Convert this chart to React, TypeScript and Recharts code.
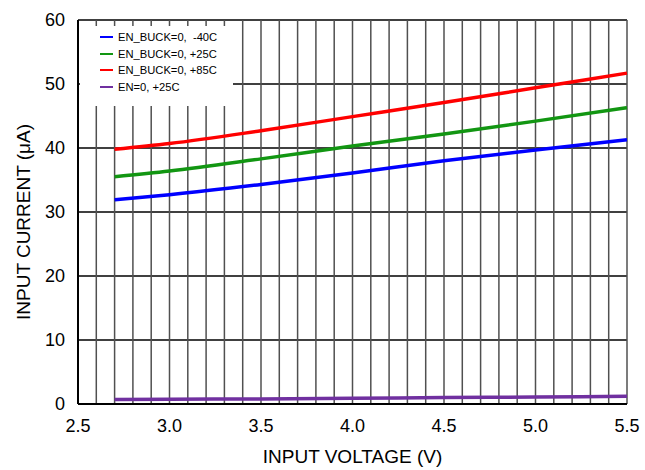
import React from "react";
import {
  LineChart,
  Line,
  XAxis,
  YAxis,
  CartesianGrid,
  Legend,
  Label,
} from "recharts";

// input voltage (V)
const voltage = [2.7, 3.0, 3.5, 4.0, 4.5, 5.0, 5.5];
// input current (uA)
const buckMinus40 = [31.9, 32.7, 34.3, 36.1, 38.0, 39.7, 41.3];
const buckPlus25 = [35.5, 36.4, 38.3, 40.3, 42.2, 44.2, 46.3];
const buckPlus85 = [39.8, 40.7, 42.7, 44.9, 47.1, 49.4, 51.7];
const enPlus25 = [0.7, 0.75, 0.8, 0.9, 1.0, 1.1, 1.2];

const xTicks = [2.5, 3.0, 3.5, 4.0, 4.5, 5.0, 5.5];
const yTicks = [0, 10, 20, 30, 40, 50, 60];
const xGrid = [
  2.5, 2.6, 2.7, 2.8, 2.9, 3.0, 3.1, 3.2, 3.3, 3.4, 3.5, 3.6, 3.7, 3.8, 3.9,
  4.0, 4.1, 4.2, 4.3, 4.4, 4.5, 4.6, 4.7, 4.8, 4.9, 5.0, 5.1, 5.2, 5.3, 5.4,
  5.5,
];

const series = [
  { key: "m40", name: "EN_BUCK=0,  -40C", color: "#0000ff" },
  { key: "p25", name: "EN_BUCK=0, +25C", color: "#129612" },
  { key: "p85", name: "EN_BUCK=0, +85C", color: "#ff0000" },
  { key: "en", name: "EN=0, +25C", color: "#7030a0" },
];

const data = voltage.map((v, i) => ({
  v,
  m40: buckMinus40[i],
  p25: buckPlus25[i],
  p85: buckPlus85[i],
  en: enPlus25[i],
}));

const font = '"Liberation Sans", Arial, sans-serif';

function LegendBox() {
  return (
    <div
      style={{
        background: "#fff",
        width: 153,
        height: 80,
        paddingTop: 2.5,
        boxSizing: "border-box",
        fontFamily: font,
        fontSize: 11.2,
        color: "#000",
      }}
    >
      {series.map((s) => (
        <div
          key={s.key}
          style={{ display: "flex", alignItems: "center", height: 16.7 }}
        >
          <span
            style={{
              display: "inline-block",
              width: 13,
              height: 2,
              background: s.color,
              marginLeft: 20,
              marginRight: 5,
            }}
          />
          <span style={{ whiteSpace: "pre" }}>{s.name}</span>
        </div>
      ))}
    </div>
  );
}

function YTitle({ viewBox }: any) {
  const x = viewBox.x + 23;
  const y = viewBox.y + viewBox.height / 2 + 10;
  return (
    <text
      x={x}
      y={y}
      transform={`rotate(-90 ${x} ${y})`}
      textAnchor="middle"
      dominantBaseline="central"
      fontFamily={font}
      fontSize={19}
      fill="#000"
    >
      INPUT CURRENT (μA)
    </text>
  );
}

function XTitle({ viewBox }: any) {
  const x = viewBox.x + viewBox.width / 2;
  return (
    <text
      x={x}
      y={456}
      textAnchor="middle"
      dominantBaseline="central"
      fontFamily={font}
      fontSize={19}
      fill="#000"
    >
      INPUT VOLTAGE (V)
    </text>
  );
}

const xLabel = (t: number) =>
  xTicks.some((k) => Math.abs(k - t) < 1e-9) ? t.toFixed(1) : "";

export default function App() {
  return (
    <div style={{ position: "absolute", left: 0, top: 0 }}>
      <LineChart
        width={645}
        height={470}
        data={data}
        margin={{ top: 20, right: 18, bottom: 0, left: 0 }}
      >
        <CartesianGrid
          vertical={false}
          horizontalValues={yTicks}
          stroke="#000"
          strokeWidth={1.3}
        />
        <CartesianGrid horizontal={false} stroke="#505050" strokeWidth={1.5} />
        <XAxis
          dataKey="v"
          type="number"
          domain={[2.5, 5.5]}
          ticks={xGrid}
          interval={0}
          tickFormatter={xLabel}
          height={66}
          tickLine={false}
          tickSize={5}
          tickMargin={10}
          axisLine={{ stroke: "#000", strokeWidth: 2 }}
          tick={{ fill: "#000", fontSize: 18, fontFamily: font }}
        >
          <Label content={<XTitle />} />
        </XAxis>
        <YAxis
          type="number"
          domain={[0, 60]}
          ticks={yTicks}
          interval={0}
          width={78}
          tickLine={false}
          tickSize={5}
          tickMargin={8}
          axisLine={{ stroke: "#000", strokeWidth: 2 }}
          tick={{ fill: "#000", fontSize: 18, fontFamily: font }}
        >
          <Label content={<YTitle />} />
        </YAxis>
        <Legend
          layout="vertical"
          align="center"
          verticalAlign="middle"
          content={<LegendBox />}
          wrapperStyle={{ left: 80, top: 26, width: 153, height: 80 }}
        />
        {series.map((s) => (
          <Line
            key={s.key}
            name={s.name}
            dataKey={s.key}
            stroke={s.color}
            strokeWidth={3.5}
            dot={false}
            type="monotone"
            isAnimationActive={false}
          />
        ))}
      </LineChart>
    </div>
  );
}
